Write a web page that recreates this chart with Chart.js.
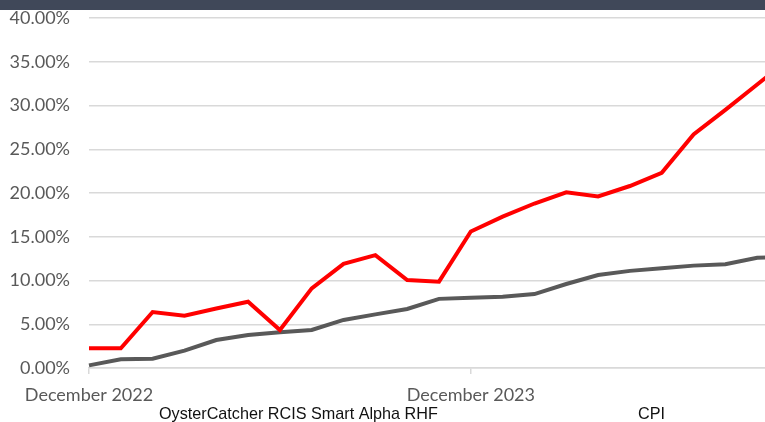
<!DOCTYPE html>
<html>
<head>
<meta charset="utf-8">
<script src="https://cdn.jsdelivr.net/npm/chart.js@4"></script>
<style>
  html, body { margin: 0; padding: 0; width: 765px; height: 422px; overflow: hidden; background: #fff; }
  #wrap { position: relative; width: 765px; height: 422px; overflow: hidden; }
  #bar { position: absolute; left: 0; top: 0; width: 765px; height: 10px; background: #404859; z-index: 2; }
  canvas { position: absolute; left: 0; top: 0; }
</style>
</head>
<body>
<div id="wrap">
  <div id="bar"></div>
  <canvas id="c" width="800" height="422"></canvas>
</div>
<script>
const categories = [
  "December 2022", "January 2023", "February 2023", "March 2023", "April 2023", "May 2023",
  "June 2023", "July 2023", "August 2023", "September 2023", "October 2023", "November 2023",
  "December 2023", "January 2024", "February 2024", "March 2024", "April 2024", "May 2024",
  "June 2024", "July 2024", "August 2024", "September 2024", "October 2024"
];
const fundName = "OysterCatcher RCIS Smart Alpha RHF";
const cpiName = "CPI";
const fundValues = [2.25, 2.25, 6.4, 5.98, 6.8, 7.58, 4.34, 9.1, 11.9, 12.9, 10.06, 9.87,
  15.6, 17.3, 18.8, 20.07, 19.6, 20.8, 22.3, 26.7, 29.5, 32.4, 35.3];
const cpiValues = [0.3, 1.0, 1.07, 1.98, 3.2, 3.77, 4.08, 4.34, 5.49, 6.13, 6.74, 7.9,
  8.04, 8.15, 8.45, 9.6, 10.63, 11.1, 11.39, 11.7, 11.85, 12.6, 12.7];
const yTicks = [0, 5, 10, 15, 20, 25, 30, 35, 40];

const legendPlugin = {
  id: 'textLegend',
  afterDraw(chart) {
    const ctx = chart.ctx;
    ctx.save();
    ctx.font = '16.2px "Liberation Sans", Arial, sans-serif';
    ctx.fillStyle = '#111111';
    ctx.textBaseline = 'alphabetic';
    ctx.textAlign = 'left';
    const xs = [159, 638];
    chart.data.datasets.forEach((ds, i) => ctx.fillText(ds.label, xs[i], 419));
    ctx.restore();
  }
};

new Chart(document.getElementById('c'), {
  type: 'line',
  data: {
    labels: categories,
    datasets: [
      { label: fundName, data: fundValues, borderColor: '#ff0000', borderWidth: 4,
        pointRadius: 0, tension: 0, borderJoinStyle: 'miter', fill: false },
      { label: cpiName, data: cpiValues, borderColor: '#595959', borderWidth: 4,
        pointRadius: 0, tension: 0, borderJoinStyle: 'miter', fill: false }
    ]
  },
  options: {
    responsive: false,
    animation: false,
    layout: { padding: { top: 18, right: 11, left: 0, bottom: 0 } },
    plugins: { legend: { display: false }, tooltip: { enabled: false } },
    scales: {
      x: {
        type: 'category',
        offset: false,
        afterFit(scale) { scale.height = 54; },
        grid: {
          display: true, drawOnChartArea: false, drawTicks: true, tickLength: 6,
          color: (c) => (categories[c.index] || '').startsWith('December') ? '#d9d9d9' : 'rgba(0,0,0,0)',
          lineWidth: 1.5
        },
        border: { display: true, color: '#d9d9d9', width: 1.5 },
        ticks: {
          autoSkip: false, maxRotation: 0, minRotation: 0, padding: 10,
          color: '#595959',
          font: { family: 'Lato, "Open Sans", sans-serif', size: 18 },
          callback: (v, i) => categories[i].startsWith('December') ? categories[i] : ''
        }
      },
      y: {
        min: 0, max: 40,
        afterFit(scale) { scale.width = 89; },
        afterBuildTicks(scale) { scale.ticks = yTicks.map(v => ({ value: v })); },
        grid: { color: '#d9d9d9', lineWidth: 1.5, drawTicks: true, tickLength: 19, tickColor: 'rgba(0,0,0,0)' },
        border: { display: false },
        ticks: {
          padding: 0, color: '#595959',
          font: { family: 'Lato, "Open Sans", sans-serif', size: 18 },
          callback: (v) => v.toFixed(2) + '%'
        }
      }
    }
  },
  plugins: [legendPlugin]
});
</script>
</body>
</html>
